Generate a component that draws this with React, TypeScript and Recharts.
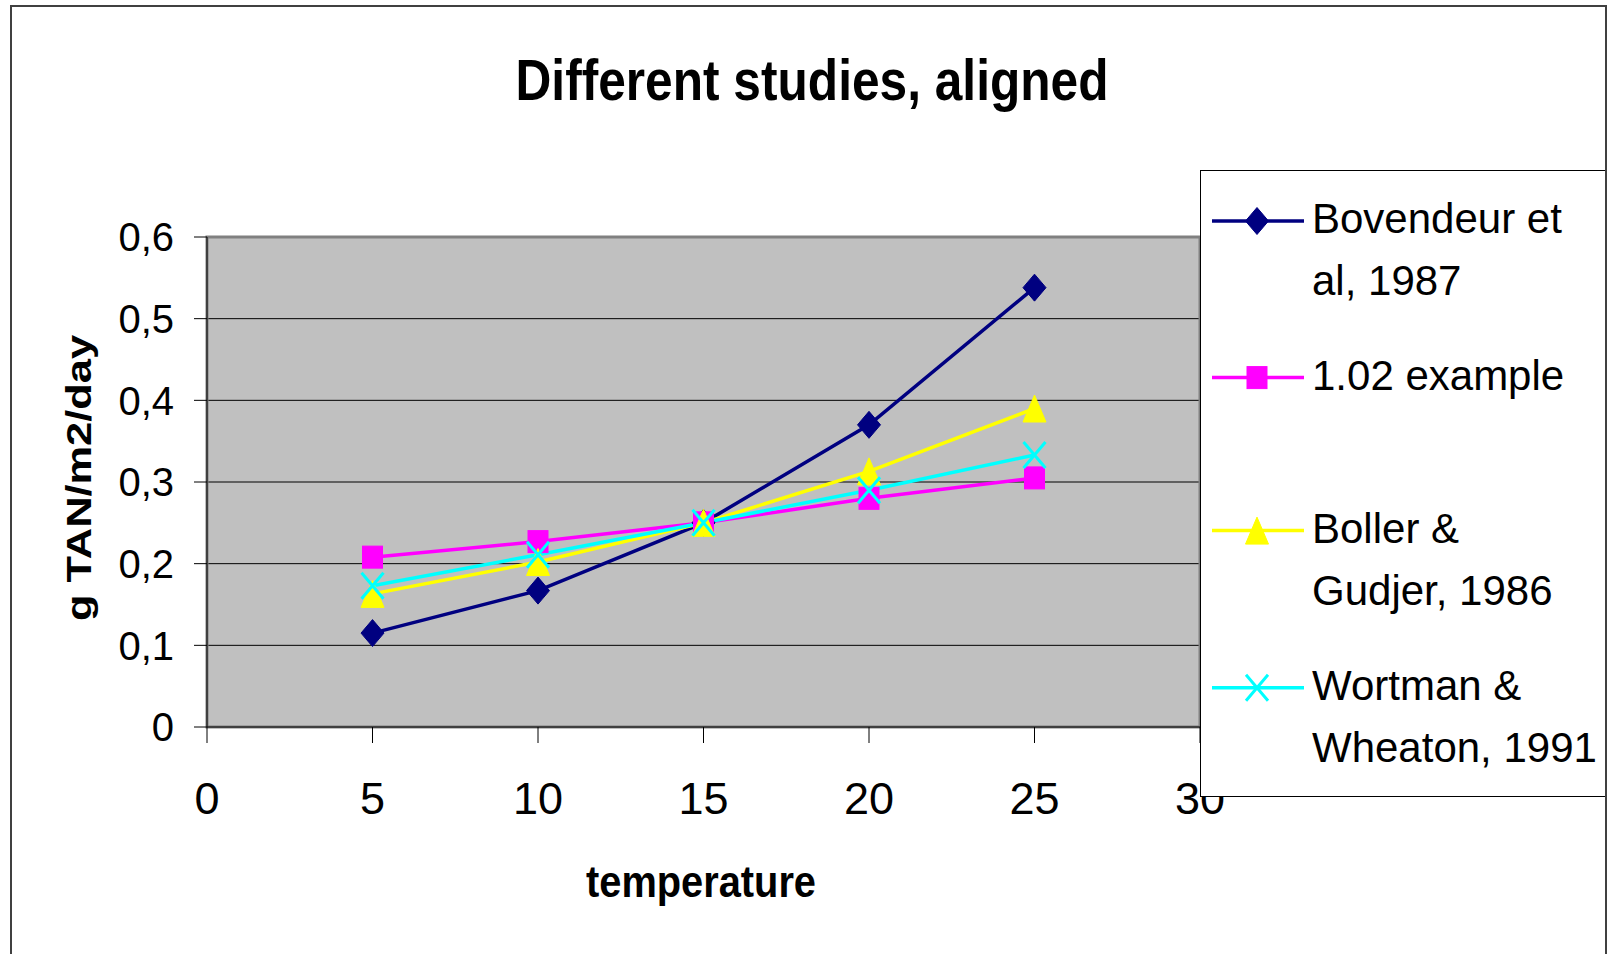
import React from 'react';
import { LineChart, Line, XAxis, YAxis, CartesianGrid, ReferenceArea, Legend } from 'recharts';

const TEMPERATURES = [5, 10, 15, 20, 25];
const BOVENDEUR = [0.115, 0.167, 0.25, 0.37, 0.538];
const EXAMPLE_102 = [0.208, 0.227, 0.25, 0.28, 0.305];
const BOLLER = [0.163, 0.202, 0.25, 0.313, 0.39];
const WORTMAN = [0.173, 0.211, 0.25, 0.29, 0.333];

const X_TICKS = [0, 5, 10, 15, 20, 25, 30];
const Y_TICKS = [0, 0.1, 0.2, 0.3, 0.4, 0.5, 0.6];

const SERIES_KEYS = ['bovendeur', 'example', 'boller', 'wortman'];
const SERIES_NAMES = ['Bovendeur et al, 1987', '1.02 example', 'Boller & Gudjer, 1986', 'Wortman & Wheaton, 1991'];
const SERIES_COLORS = ['#000080', '#FF00FF', '#FFFF00', '#00FFFF'];
const SERIES_SHAPES = ['diamond', 'square', 'triangle', 'x'];
const LEGEND_LINES = [['Bovendeur et', 'al, 1987'], ['1.02 example'], ['Boller &', 'Gudjer, 1986'], ['Wortman &', 'Wheaton, 1991']];

const TITLE = 'Different studies, aligned';
const X_LABEL = 'temperature';
const Y_LABEL = 'g TAN/m2/day';

const FONT = '"Liberation Sans", Arial, Helvetica, sans-serif';

const data = TEMPERATURES.map((t, i) => ({
  t,
  bovendeur: BOVENDEUR[i],
  example: EXAMPLE_102[i],
  boller: BOLLER[i],
  wortman: WORTMAN[i],
}));

function Marker({ shape, cx, cy, color }: { shape: string; cx: number; cy: number; color: string }) {
  if (cx == null || cy == null) return <g />;
  switch (shape) {
    case 'diamond':
      return <path d={`M${cx},${cy - 13.5}L${cx + 11.5},${cy}L${cx},${cy + 13.5}L${cx - 11.5},${cy}Z`} fill={color} stroke={color} strokeWidth={1} />;
    case 'square':
      return <rect x={cx - 10} y={cy - 11} width={20} height={22} fill={color} stroke={color} strokeWidth={1} />;
    case 'triangle':
      return <path d={`M${cx},${cy - 13.5}L${cx + 11.5},${cy + 13.5}L${cx - 11.5},${cy + 13.5}Z`} fill={color} stroke={color} strokeWidth={1} />;
    default:
      return (
        <path
          d={`M${cx - 11},${cy - 13}L${cx + 11},${cy + 13}M${cx + 11},${cy - 13}L${cx - 11},${cy + 13}`}
          stroke={color}
          strokeWidth={3}
          fill="none"
        />
      );
  }
}

const renderDot = (shape: string, color: string) => (props: any) => (
  <Marker key={`${shape}-${props.index}`} shape={shape} cx={props.cx} cy={props.cy} color={color} />
);

const LEGEND_ROW_Y = [51, 207.6, 360.6, 517.7];

function LegendBox() {
  return (
    <svg width={406} height={627} style={{ display: 'block' }}>
      <rect x={0.5} y={0.5} width={405} height={626} fill="#ffffff" stroke="#000000" strokeWidth={1} />
      {SERIES_KEYS.map((k, i) => (
        <g key={k}>
          <line x1={12} x2={104} y1={LEGEND_ROW_Y[i]} y2={LEGEND_ROW_Y[i]} stroke={SERIES_COLORS[i]} strokeWidth={3.5} />
          <Marker shape={SERIES_SHAPES[i]} cx={57} cy={LEGEND_ROW_Y[i]} color={SERIES_COLORS[i]} />
          {LEGEND_LINES[i].map((ln, j) => (
            <text
              key={j}
              x={112}
              y={LEGEND_ROW_Y[i] + 12 + 62 * j}
              fontSize={42}
              fontFamily={FONT}
              fill="#000"
            >
              {ln}
            </text>
          ))}
        </g>
      ))}
    </svg>
  );
}

const fmtY = (v: number) => (v === 0 ? '0' : v.toFixed(1).replace('.', ','));

export default function App() {
  return (
    <div style={{ position: 'absolute', left: 0, top: 0, width: 1608, height: 954, background: '#ffffff', overflow: 'hidden' }}>
      <LineChart width={1608} height={954} data={data} margin={{ top: 237, right: 408, bottom: 0, left: 0 }}>
        <CartesianGrid horizontal vertical={false} stroke="#000000" strokeWidth={1} fill="#C0C0C0" fillOpacity={1} />
        <ReferenceArea x1={0} x2={30} y1={0} y2={0.6} fill="#C0C0C0" fillOpacity={0} stroke="#808080" strokeWidth={3} ifOverflow="visible" />
        <XAxis
          dataKey="t"
          type="number"
          domain={[0, 30]}
          ticks={X_TICKS}
          interval={0}
          height={227}
          tickSize={16}
          tickMargin={39}
          axisLine={{ stroke: '#000000', strokeWidth: 1 }}
          tickLine={{ stroke: '#000000', strokeWidth: 1 }}
          tick={{ fontSize: 45, fill: '#000000', fontFamily: FONT }}
        />
        <YAxis
          type="number"
          domain={[0, 0.6]}
          ticks={Y_TICKS}
          interval={0}
          width={207}
          tickSize={13}
          tickMargin={20}
          tickFormatter={fmtY}
          axisLine={{ stroke: '#000000', strokeWidth: 1 }}
          tickLine={{ stroke: '#000000', strokeWidth: 1 }}
          tick={{ fontSize: 40, fill: '#000000', fontFamily: FONT }}
        />
        {SERIES_KEYS.map((k, i) => (
          <Line
            key={k}
            type="linear"
            dataKey={k}
            name={SERIES_NAMES[i]}
            stroke={SERIES_COLORS[i]}
            strokeWidth={3.5}
            dot={renderDot(SERIES_SHAPES[i], SERIES_COLORS[i])}
            activeDot={false}
            isAnimationActive={false}
          />
        ))}
        <Legend
          layout="vertical"
          align="center"
          verticalAlign="middle"
          content={() => <LegendBox />}
          wrapperStyle={{ left: 1200, top: 170, width: 406, height: 627, right: 'auto', bottom: 'auto', margin: 0, padding: 0 }}
        />
      </LineChart>
      <svg
        width={1608}
        height={954}
        style={{ position: 'absolute', left: 0, top: 0, pointerEvents: 'none' }}
      >
        <path d="M11,954 L11,6 L1606,6 L1606,954" fill="none" stroke="#404040" strokeWidth={2} />
        <text
          x={812}
          y={100}
          textAnchor="middle"
          fontSize={58}
          fontWeight="bold"
          fontFamily={FONT}
          textLength={593}
          lengthAdjust="spacingAndGlyphs"
          fill="#000"
        >
          {TITLE}
        </text>
        <text
          x={701}
          y={897}
          textAnchor="middle"
          fontSize={45}
          fontWeight="bold"
          fontFamily={FONT}
          textLength={230}
          lengthAdjust="spacingAndGlyphs"
          fill="#000"
        >
          {X_LABEL}
        </text>
        <text
          x={91}
          y={478}
          transform="rotate(-90 91 478)"
          textAnchor="middle"
          fontSize={35}
          fontWeight="bold"
          fontFamily={FONT}
          textLength={286}
          lengthAdjust="spacingAndGlyphs"
          fill="#000"
        >
          {Y_LABEL}
        </text>
      </svg>
    </div>
  );
}
